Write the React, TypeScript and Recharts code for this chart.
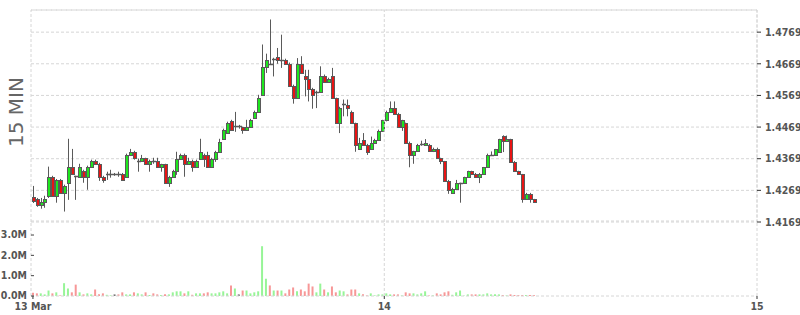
import React from "react";
import {
  ComposedChart,
  Bar,
  Cell,
  XAxis,
  YAxis,
  CartesianGrid,
  ReferenceLine,
} from "recharts";

// 15 minute candles, 13 Mar 01:30 onwards
const opens = [
  1.4249, 1.4242, 1.4223, 1.4233, 1.4252, 1.4312, 1.4252, 1.4302, 1.4261, 1.4293,
  1.4343, 1.4313, 1.4312, 1.4331, 1.4312, 1.4343, 1.4362, 1.4353, 1.4312, 1.4321,
  1.4321, 1.4322, 1.4322, 1.4321, 1.4312, 1.4381, 1.4391, 1.4362, 1.4362, 1.437,
  1.4353, 1.4362, 1.4362, 1.4343, 1.4351, 1.4293, 1.4312, 1.4331, 1.4369, 1.4381,
  1.4353, 1.4362, 1.4343, 1.4369, 1.4381, 1.4381, 1.4343, 1.4369, 1.4391, 1.4432,
  1.4451, 1.4489, 1.4471, 1.4471, 1.4468, 1.4461, 1.4468, 1.4499, 1.4518, 1.457,
  1.4658, 1.4668, 1.4682, 1.4689, 1.468, 1.468, 1.4668, 1.46, 1.4561, 1.4668,
  1.4631, 1.4622, 1.459, 1.458, 1.458, 1.4631, 1.4613, 1.4631, 1.4561, 1.4482,
  1.454, 1.454, 1.4518, 1.4482, 1.4399, 1.4429, 1.4413, 1.4399, 1.442, 1.4429,
  1.4458, 1.449, 1.4518, 1.4529, 1.4511, 1.4469, 1.4482, 1.442, 1.4381, 1.4392,
  1.4413, 1.4413, 1.4413, 1.4392, 1.4399, 1.4371, 1.4361, 1.43, 1.426, 1.4273,
  1.4292, 1.4292, 1.4311, 1.4329, 1.432, 1.4311, 1.432, 1.4342, 1.4381, 1.4381,
  1.439, 1.4442, 1.4424, 1.4431, 1.436, 1.4329, 1.432, 1.4241, 1.4258, 1.4241,
];
const highs = [
  1.4283, 1.4245, 1.4245, 1.4252, 1.4344, 1.4315, 1.4305, 1.4305, 1.4287, 1.4432,
  1.44, 1.4315, 1.4353, 1.4334, 1.4347, 1.4366, 1.4366, 1.4356, 1.4315, 1.4328,
  1.4334, 1.4324, 1.4328, 1.4324, 1.4385, 1.44, 1.4394, 1.4369, 1.4381, 1.4372,
  1.4366, 1.4372, 1.4372, 1.4353, 1.4353, 1.4315, 1.4334, 1.4391, 1.4385, 1.4385,
  1.4372, 1.4366, 1.4366, 1.4432, 1.4385, 1.4391, 1.4372, 1.4394, 1.4432, 1.4464,
  1.4486, 1.4492, 1.4517, 1.4476, 1.447, 1.4492, 1.4495, 1.4521, 1.4571, 1.473,
  1.4701, 1.4809, 1.4688, 1.4719, 1.4761, 1.4685, 1.4673, 1.4603, 1.4687, 1.4693,
  1.465, 1.465, 1.4593, 1.4584, 1.4661, 1.4635, 1.4625, 1.4656, 1.4562, 1.4533,
  1.4556, 1.4556, 1.4521, 1.4483, 1.4435, 1.445, 1.4416, 1.4439, 1.4432, 1.4461,
  1.4492, 1.4521, 1.455, 1.455, 1.4514, 1.4492, 1.4483, 1.4423, 1.4394, 1.4416,
  1.4426, 1.4431, 1.4416, 1.4404, 1.4404, 1.4372, 1.4362, 1.4302, 1.4277, 1.4302,
  1.4293, 1.4312, 1.4331, 1.4331, 1.4324, 1.4324, 1.4343, 1.4385, 1.4392, 1.44,
  1.4432, 1.4443, 1.4442, 1.4432, 1.4362, 1.4331, 1.4321, 1.4261, 1.4261, 1.4242,
];
const lows = [
  1.4229, 1.4217, 1.4211, 1.4214, 1.4245, 1.4249, 1.423, 1.4258, 1.4202, 1.4239,
  1.4318, 1.4239, 1.4309, 1.4293, 1.4271, 1.434, 1.435, 1.4299, 1.4293, 1.4302,
  1.4309, 1.4315, 1.4312, 1.4299, 1.4309, 1.4378, 1.4366, 1.4328, 1.4359, 1.435,
  1.4328, 1.4353, 1.434, 1.4328, 1.429, 1.428, 1.4309, 1.4318, 1.4366, 1.4312,
  1.435, 1.4328, 1.434, 1.4366, 1.4343, 1.434, 1.434, 1.4359, 1.4388, 1.4429,
  1.4448, 1.4457, 1.4454, 1.4464, 1.4448, 1.4457, 1.4467, 1.4497, 1.4517, 1.4568,
  1.464, 1.4666, 1.4629, 1.4669, 1.4656, 1.4666, 1.4597, 1.4543, 1.4559, 1.4638,
  1.4566, 1.455, 1.4527, 1.4529, 1.4578, 1.4612, 1.4612, 1.4559, 1.448, 1.445,
  1.4503, 1.4503, 1.448, 1.4391, 1.4397, 1.441, 1.4381, 1.4397, 1.4418, 1.4426,
  1.4457, 1.4487, 1.4517, 1.4508, 1.4467, 1.4457, 1.4419, 1.4342, 1.4353, 1.4391,
  1.441, 1.441, 1.4391, 1.439, 1.4369, 1.4352, 1.4299, 1.4258, 1.4258, 1.4271,
  1.423, 1.429, 1.4309, 1.4318, 1.4309, 1.4292, 1.4318, 1.434, 1.4378, 1.4378,
  1.4388, 1.439, 1.4423, 1.4359, 1.4328, 1.4318, 1.423, 1.4239, 1.423, 1.4231,
];
const closes = [
  1.4234, 1.4223, 1.4233, 1.4242, 1.4312, 1.4252, 1.4302, 1.4261, 1.4283, 1.4343,
  1.4321, 1.4312, 1.4343, 1.4312, 1.4343, 1.4362, 1.4353, 1.4312, 1.4302, 1.4322,
  1.4322, 1.4322, 1.4321, 1.4302, 1.4381, 1.4391, 1.4372, 1.4363, 1.437, 1.4353,
  1.4362, 1.4361, 1.4343, 1.4351, 1.4293, 1.4312, 1.4331, 1.4369, 1.4381, 1.4353,
  1.4362, 1.4343, 1.4362, 1.4391, 1.4369, 1.4343, 1.4369, 1.4391, 1.4423, 1.4461,
  1.4483, 1.4461, 1.4472, 1.4471, 1.4461, 1.4468, 1.4491, 1.4518, 1.4561, 1.4658,
  1.468, 1.4667, 1.4683, 1.468, 1.4681, 1.4668, 1.46, 1.4561, 1.4668, 1.464,
  1.4622, 1.459, 1.4571, 1.4581, 1.4631, 1.4613, 1.4621, 1.4561, 1.4482, 1.4529,
  1.4541, 1.4529, 1.4482, 1.4413, 1.442, 1.4413, 1.4389, 1.442, 1.4429, 1.4458,
  1.449, 1.4518, 1.4529, 1.4511, 1.4469, 1.449, 1.442, 1.4381, 1.4392, 1.4413,
  1.4414, 1.442, 1.4392, 1.4399, 1.4371, 1.4361, 1.43, 1.4271, 1.4273, 1.4292,
  1.4293, 1.4311, 1.4329, 1.432, 1.4311, 1.432, 1.4342, 1.4381, 1.4382, 1.4399,
  1.4431, 1.4424, 1.4431, 1.436, 1.4329, 1.432, 1.4241, 1.4258, 1.4241, 1.4233,
];
// volume in millions
const volumes = [
  0.16, 0.13, 0.13, 0.08, 0.27, 0.13, 0.18, 0.03, 0.63, 0.37,
  0.18, 0.56, 0.18, 0.08, 0.13, 0.08, 0.32, 0.08, 0.13, 0.06,
  0.03, 0.08, 0.08, 0.18, 0.08, 0.08, 0.18, 0.13, 0.08, 0.18,
  0.05, 0.13, 0.08, 0.05, 0.08, 0.08, 0.18, 0.23, 0.23, 0.13,
  0.23, 0.06, 0.13, 0.13, 0.13, 0.18, 0.13, 0.13, 0.18, 0.23,
  0.13, 0.52, 0.37, 0.08, 0.27, 0.27, 0.13, 0.18, 0.23, 2.45,
  0.85, 0.52, 0.27, 0.27, 0.27, 0.13, 0.32, 0.42, 0.23, 0.32,
  0.23, 0.61, 0.47, 0.18, 0.61, 0.32, 0.18, 0.47, 0.18, 0.27,
  0.23, 0.08, 0.32, 0.32, 0.13, 0.08, 0.03, 0.13, 0.03, 0.08,
  0.08, 0.13, 0.08, 0.08, 0.08, 0.03, 0.18, 0.13, 0.13, 0.08,
  0.13, 0.23, 0.03, 0.03, 0.13, 0.08, 0.18, 0.23, 0.06, 0.18,
  0.27, 0.02, 0.08, 0.08, 0.08, 0.08, 0.08, 0.13, 0.08, 0.08,
  0.08, 0.05, 0.03, 0.08, 0.05, 0.05, 0.05, 0.05, 0.05, 0.05,
];

const xTicks = [0.5, 91, 187];
const xTickLabels = ["13 Mar", "14", "15"];
const priceTicks = [1.4169, 1.4269, 1.4369, 1.4469, 1.4569, 1.4669, 1.4769];
const volumeTicks = [0, 1, 2, 3];
const volumeTickLabels = ["0.0M", "1.0M", "2.0M", "3.0M"];
const title = "15 MIN";

const X_DOMAIN: [number, number] = [0, 187];
const PRICE_DOMAIN: [number, number] = [1.4169, 1.4839];
const VOL_DOMAIN: [number, number] = [0, 3.69];

const UP = "#1ee61e";
const DOWN = "#e81414";
const EDGE = "#5a5a5a";
const GRID = "#d6d6d6";
const LABEL = "#555";
const TICK_FONT = "'DejaVu Sans Condensed', 'DejaVu Sans', sans-serif";

const data = opens.map((open, i) => ({
  t: i + 0.5,
  open,
  high: highs[i],
  low: lows[i],
  close: closes[i],
  range: [lows[i], highs[i]],
  volume: volumes[i],
}));

const Candle = (props: any) => {
  const { x, y, width, height, payload } = props;
  if (!payload || x == null) return null;
  const { open, close, high, low } = payload;
  const top = Math.min(y, y + height);
  const h = Math.abs(height);
  const k = high > low ? h / (high - low) : 0;
  const cx = Math.round(x + width / 2) + 0.5;
  const py = (v: number) => top + (high - v) * k;
  const bTop = Math.round(py(Math.max(open, close))) + 0.5;
  const bBot = Math.round(py(Math.min(open, close))) + 0.5;
  const fill = close > open ? UP : DOWN;
  return (
    <g>
      <line x1={cx} x2={cx} y1={top} y2={top + h} stroke={EDGE} strokeWidth={1} />
      {bBot - bTop < 1.5 ? (
        <line x1={cx - 1.5} x2={cx + 2.5} y1={bTop} y2={bTop} stroke={EDGE} strokeWidth={1.5} />
      ) : (
        <rect x={cx - 1} y={bTop} width={3} height={bBot - bTop} fill={fill} stroke={EDGE} strokeWidth={1} />
      )}
    </g>
  );
};

const VolumeTick = (props: any) => {
  const { y, payload } = props;
  const i = volumeTicks.indexOf(payload.value);
  return (
    <g>
      <text
        x={27}
        y={y - 0.5}
        dy="0.35em"
        textAnchor="end"
        fill={LABEL}
        fontSize={10.5}
        fontWeight="bold"
        fontFamily={TICK_FONT}
      >
        {volumeTickLabels[i]}
      </text>
      <line x1={31} x2={34} y1={y} y2={y} stroke="#444" />
    </g>
  );
};

const dashed = { stroke: GRID, strokeDasharray: "3 2" };
const tickText = { fill: LABEL, fontSize: 10.5, fontWeight: "bold", fontFamily: TICK_FONT };

export default function App() {
  return (
    <div
      style={{
        position: "absolute",
        left: 0,
        top: 0,
        width: 800,
        height: 315,
        background: "#fff",
        fontFamily: "'DejaVu Sans', sans-serif",
        overflow: "hidden",
      }}
    >
      <div
        style={{
          position: "absolute",
          left: 16,
          top: 112,
          transform: "translate(-50%, -50%) rotate(-90deg)",
          fontSize: 20,
          lineHeight: 1,
          color: "#666",
          whiteSpace: "nowrap",
        }}
      >
        {title}
      </div>

      <div style={{ position: "absolute", left: 0, top: 0 }}>
        <ComposedChart
          width={800}
          height={240}
          data={data}
          margin={{ top: 10, right: 0, bottom: 18, left: 31 }}
        >
          <CartesianGrid vertical={false} stroke={GRID} strokeDasharray="3 2" />
          <XAxis type="number" dataKey="t" domain={X_DOMAIN} hide allowDataOverflow />
          <YAxis
            orientation="right"
            width={43}
            domain={PRICE_DOMAIN}
            ticks={priceTicks}
            interval={0}
            allowDataOverflow
            axisLine={dashed}
            tickLine={{ stroke: "#333" }}
            tickSize={4}
            tickMargin={4}
            tickFormatter={(v: number) => v.toFixed(4)}
            tick={tickText}
          />
          <ReferenceLine y={PRICE_DOMAIN[1]} {...dashed} />
          {xTicks.map((t, i) => (
            <ReferenceLine key={i} x={i === 0 ? X_DOMAIN[0] : t} {...dashed} />
          ))}
          <Bar dataKey="range" barSize={4} shape={Candle} isAnimationActive={false} />
        </ComposedChart>
      </div>

      <div style={{ position: "absolute", left: 0, top: 211 }}>
        <ComposedChart
          width={800}
          height={104}
          data={data}
          margin={{ top: 10, right: 43, bottom: 0, left: 0 }}
        >
          <XAxis
            type="number"
            dataKey="t"
            domain={X_DOMAIN}
            ticks={xTicks}
            interval={0}
            allowDataOverflow
            height={19}
            axisLine={dashed}
            tickLine={{ stroke: "#333" }}
            tickSize={3}
            tickMargin={3.5}
            tickFormatter={(v: number) => xTickLabels[xTicks.indexOf(v)]}
            tick={tickText}
          />
          <YAxis
            width={31}
            domain={VOL_DOMAIN}
            ticks={volumeTicks}
            interval={0}
            allowDataOverflow
            axisLine={false}
            tickLine={false}
            tick={VolumeTick}
          />
          <ReferenceLine y={VOL_DOMAIN[1]} {...dashed} />
          {xTicks.map((t, i) => (
            <ReferenceLine key={i} x={i === 0 ? X_DOMAIN[0] : t} {...dashed} />
          ))}
          <Bar dataKey="volume" barSize={2} isAnimationActive={false}>
            {data.map((d, i) => (
              <Cell
                key={i}
                fill={d.close > d.open ? "#97f597" : d.close < d.open ? "#f79797" : "#777"}
              />
            ))}
          </Bar>
        </ComposedChart>
      </div>
    </div>
  );
}
